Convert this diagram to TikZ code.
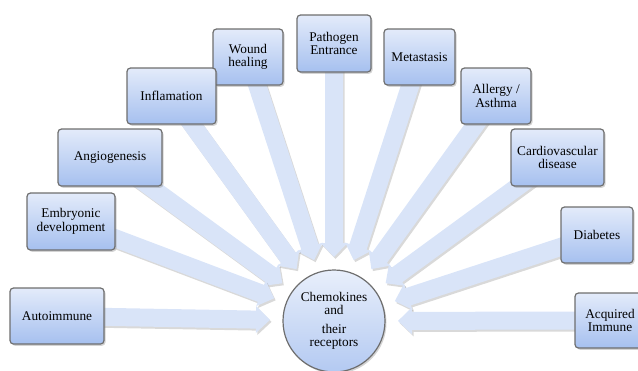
\documentclass[tikz,border=0pt]{standalone}
\usepackage{fontspec}
\setmainfont{Liberation Serif}
\usetikzlibrary{calc,shadows}
\pgfdeclarelayer{background}
\pgfsetlayers{background,main}
\definecolor{boxtop}{HTML}{E3EBFA}
\definecolor{boxbot}{HTML}{A6C0EF}
\definecolor{boxline}{HTML}{6E6E6E}
\definecolor{arrowblue}{HTML}{D9E4F8}
\newcommand\fatarrow[1]{%
  \coordinate (#1-t) at ($(circ)!64pt!(#1)$);
  \coordinate (#1-h) at ($(circ)!78pt!(#1)$);
  \path[arrowstyle]
    ($(#1)!9pt!90:(#1-t)$) -- ($(#1-h)!9pt!90:(#1-t)$) --
    ($(#1-h)!13.5pt!90:(#1-t)$) -- (#1-t) --
    ($(#1-h)!13.5pt!-90:(#1-t)$) -- ($(#1-h)!9pt!-90:(#1-t)$) --
    ($(#1)!9pt!-90:(#1-t)$) -- cycle;
}
\begin{document}
\begin{tikzpicture}[x=1pt,y=-1pt,
  every node/.style={font=\fontsize{13.3}{13.5}\selectfont, align=center, text=black},
  topic/.style={draw=boxline, line width=1.2pt, rounded corners=3.5pt,
    top color=boxtop, bottom color=boxbot, minimum height=56pt, inner sep=1pt,
    drop shadow={shadow xshift=1.5pt, shadow yshift=-1.8pt, opacity=0.35}},
  hub/.style={circle, draw=boxline, line width=1.2pt, top color=boxtop!80!white,
    bottom color=boxbot!85!white, minimum size=102pt, inner sep=0pt,
    drop shadow={shadow xshift=1.5pt, shadow yshift=-1.8pt, opacity=0.35}},
  arrowstyle/.style={fill=arrowblue,
    drop shadow={shadow xshift=1.5pt, shadow yshift=-2pt, opacity=0.3}}]
\useasboundingbox (0,0) rectangle (638,370);
\node[hub] (circ) at (334,321) {Chemokines\\and\\[5pt]their\\receptors};
\node[topic, minimum width=70pt] (wound) at (248,57) {Wound\\healing};
\node[topic, minimum width=89pt] (infl) at (171.5,96) {Inflamation};
\node[topic, minimum width=104pt, minimum height=57pt] (angio) at (110,157.5) {Angiogenesis};
\node[topic, minimum width=88pt, minimum height=57pt] (embryo) at (71,221.5) {Embryonic\\development};
\node[topic, minimum width=94pt] (autoimm) at (57,316) {Autoimmune};
\node[topic, minimum width=74pt, minimum height=57pt] (patho) at (334,43.5) {Pathogen\\Entrance};
\node[topic, minimum width=71pt] (meta) at (419.5,57) {Metastasis};
\node[topic, minimum width=70pt] (allergy) at (496,96) {Allergy /\\Asthma};
\node[topic, minimum width=93pt, minimum height=57pt] (cardio) at (557.5,157.5) {Cardiovascular\\disease};
\node[topic, minimum width=72pt] (diab) at (597,235) {Diabetes};
\node[topic, minimum width=70pt, minimum height=55pt] (acq) at (610,320.5) {Acquired\\Immune};
\begin{pgfonlayer}{background}
\fatarrow{wound}
\fatarrow{infl}
\fatarrow{angio}
\fatarrow{embryo}
\fatarrow{autoimm}
\fatarrow{patho}
\fatarrow{meta}
\fatarrow{allergy}
\fatarrow{cardio}
\fatarrow{diab}
\fatarrow{acq}
\end{pgfonlayer}
\end{tikzpicture}
\end{document}
